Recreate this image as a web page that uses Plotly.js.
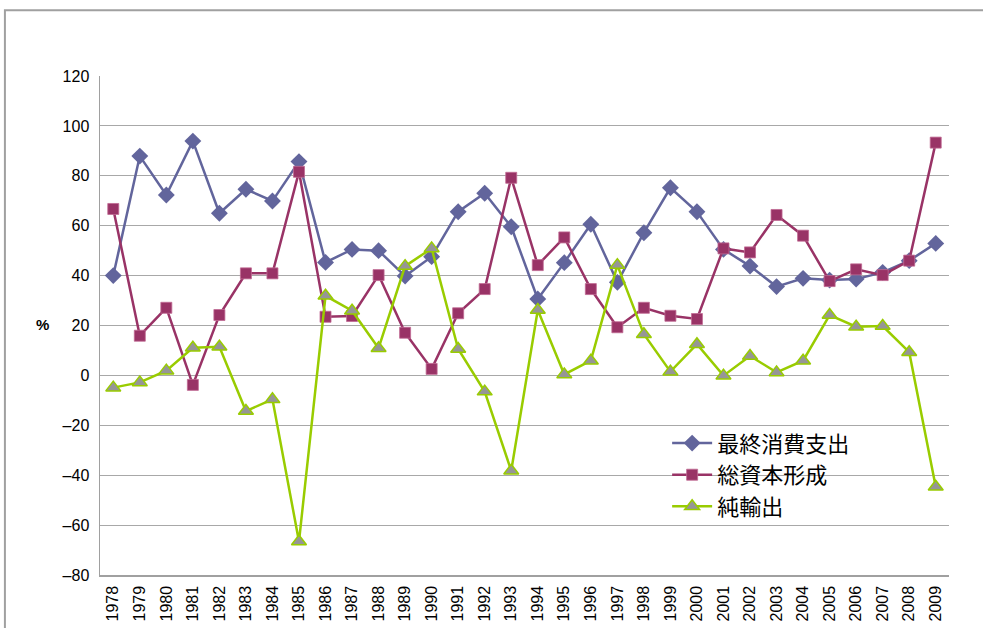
<!DOCTYPE html>
<html>
<head>
<meta charset="utf-8">
<script src="https://cdn.plot.ly/plotly-3.0.1.min.js"></script>
<style>html,body{margin:0;padding:0;background:#fff;}#chart{width:983px;height:628px;}</style>
</head>
<body>
<div id="chart"></div>
<script>
const years = ['1978','1979','1980','1981','1982','1983','1984','1985','1986','1987','1988','1989','1990','1991','1992','1993','1994','1995','1996','1997','1998','1999','2000','2001','2002','2003','2004','2005','2006','2007','2008','2009'];
const consumption = [40.0,87.9,72.3,93.9,65.0,74.6,69.9,85.7,45.3,50.5,50.0,39.8,47.6,65.6,73.0,59.6,30.6,45.2,60.6,37.3,57.2,75.2,65.6,50.5,43.8,35.6,38.9,38.2,38.6,41.3,46.0,52.9];
const capital = [66.7,15.9,27.1,-3.8,24.2,40.9,40.9,81.6,23.5,23.8,40.2,17.1,2.6,24.9,34.6,79.2,44.2,55.3,34.6,19.3,27.1,23.9,22.6,50.9,49.3,64.3,56.0,37.8,42.5,40.2,46.0,93.3];
const netExports = [-4.9,-2.8,1.9,11.1,11.5,-14.3,-9.6,-66.6,31.9,25.9,10.9,43.8,50.9,10.6,-6.5,-38.2,26.2,0.4,5.9,44.2,16.5,1.5,12.5,-0.1,7.8,1.2,5.9,24.2,19.5,19.8,9.3,-44.6];
const seriesNames = ['最終消費支出','総資本形成','純輸出'];
const yTicks = [-80,-60,-40,-20,0,20,40,60,80,100,120];

const traces = [
  {x: years, y: consumption, name: seriesNames[0], type: 'scatter', mode: 'lines+markers',
   line: {color: '#62659c', width: 2.5},
   marker: {symbol: 'diamond', size: 13, color: '#62659c', line: {color: '#62659c', width: 0}}},
  {x: years, y: capital, name: seriesNames[1], type: 'scatter', mode: 'lines+markers',
   line: {color: '#993366', width: 2.5},
   marker: {symbol: 'square', size: 11, color: '#993366', line: {color: '#c06a93', width: 0.8}}},
  {x: years, y: netExports, name: seriesNames[2], type: 'scatter', mode: 'lines+markers',
   line: {color: '#99cc00', width: 2.5},
   marker: {symbol: 'triangle-up', size: 13, color: '#969696', line: {color: '#99cc00', width: 1.5}}}
];

const layout = {
  width: 983, height: 628,
  margin: {l: 100, r: 34, t: 76, b: 53},
  paper_bgcolor: '#ffffff', plot_bgcolor: '#ffffff',
  font: {family: 'Liberation Sans, Arial, sans-serif', color: '#000'},
  showlegend: true,
  legend: {x: 0.668, y: 0.306, xanchor: 'left', yanchor: 'top', bgcolor: 'rgba(255,255,255,0)',
           font: {family: 'Noto Sans CJK JP, sans-serif', size: 22, color: '#000'},
           tracegroupgap: 0, itemwidth: 40},
  xaxis: {type: 'category', tickangle: -90, tickfont: {size: 16}, showgrid: false,
          showline: true, linecolor: '#a0a0a0', linewidth: 1.5, ticks: '', zeroline: false,
          range: [-0.5, 31.5], ticklabelstandoff: 3},
  yaxis: {range: [-80, 120], tickvals: yTicks, ticktext: yTicks.map(v => v < 0 ? '–' + Math.abs(v) : String(v)),
          tickfont: {size: 16}, gridcolor: '#a8a8a8', gridwidth: 1, zeroline: false,
          showline: true, linecolor: '#a0a0a0', linewidth: 1.5, ticks: '', ticklabelstandoff: 6},
  annotations: [{text: '<b>%</b>', xref: 'paper', yref: 'paper', x: -0.068, y: 0.503, showarrow: false,
                 font: {size: 15, family: 'Liberation Sans, Arial, sans-serif'}, xanchor: 'center', yanchor: 'middle'}],
  shapes: [
    {type: 'rect', xref: 'paper', yref: 'paper', x0: -0.112, x1: 1.2, y0: -0.3, y1: 1.132,
     line: {color: '#a0a0a0', width: 2}, fillcolor: 'rgba(0,0,0,0)', layer: 'below'},
    {type: 'rect', xref: 'x', yref: 'y', x0: 19.63, x1: 29.2, y0: -58, y1: -17,
     line: {width: 0}, fillcolor: '#ffffff', layer: 'below'}
  ]
};

Plotly.newPlot('chart', traces, layout, {displayModeBar: false, staticPlot: true});
</script>
</body>
</html>
